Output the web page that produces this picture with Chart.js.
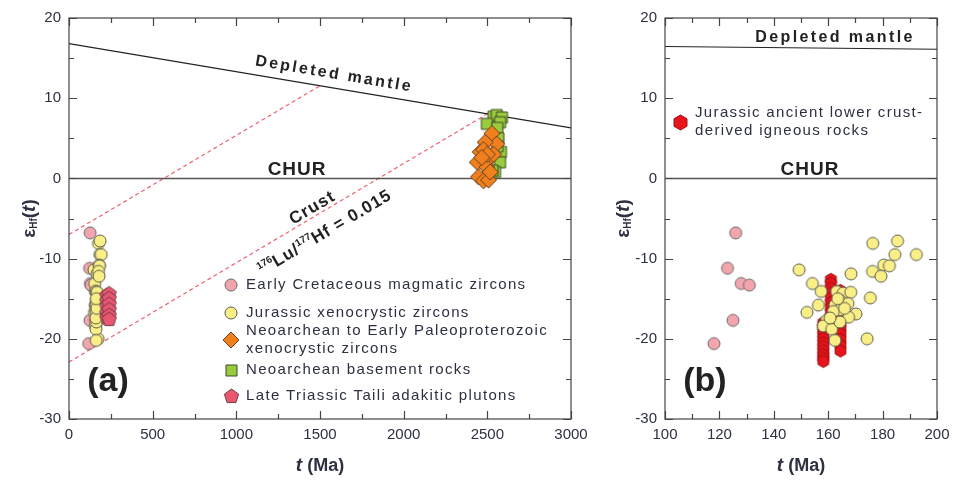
<!DOCTYPE html>
<html><head><meta charset="utf-8">
<script src="https://cdn.jsdelivr.net/npm/chart.js@4.4.1/dist/chart.umd.min.js"></script>
<style>
html,body{margin:0;padding:0;background:#fff;}
#wrap{position:relative;width:958px;height:483px;overflow:hidden;}
#chartA{position:absolute;left:0;top:0;}
#chartB{position:absolute;left:600px;top:0;}
</style></head><body>
<div id="wrap"><canvas id="chartA" width="600" height="483"></canvas><canvas id="chartB" width="358" height="483"></canvas></div>
<script>
/* eHf(t) vs t — two panels */
(function () {
  "use strict";
  const FONT = "'Liberation Sans', Arial, sans-serif";
  const INK = "#2c3040";

  /* data (age Ma, eHf) */
  const cretAge = [118, 123, 125, 126, 128, 131];
  const cretHf  = [-20.6, -11.2, -17.7, -6.8, -13.1, -13.3];

  const jurAge = [149.3, 154.2, 157.4, 152.2, 156.4, 168.4, 176.4, 185.5, 184.5, 192.4, 180.4, 182.5, 176.3, 179.4, 175.5, 174.3,
                  163.1, 165.5, 168.3, 164.3, 167.3, 162.5, 170.2, 167.5, 164.3, 161.9, 159.4, 158.2, 161.3, 162.5, 164.3, 160.7, 166.0, 163.5];
  const jurHf  = [-11.4, -13.1, -14.1, -16.7, -15.8, -11.9, -8.1, -7.8, -9.5, -9.5, -10.8, -10.9, -11.6, -12.2, -14.9, -20.0,
                  -14.1, -14.3, -14.2, -15.2, -15.6, -15.8, -16.9, -17.3, -16.4, -16.6, -17.7, -18.4, -18.8, -20.2, -17.9, -17.4, -16.2, -15.0];

  const lcAge = [158.2, 158.2, 158.2, 158.2, 158.2, 158.2, 158.2, 158.2, 158.2, 158.2, 158.2,
                 161.0, 161.0, 161.0, 161.0, 161.0, 161.0, 161.0, 161.0, 161.0, 161.0, 161.0,
                 164.5, 164.5, 164.5, 164.5, 164.5, 164.5, 164.5, 164.5, 164.5, 164.5, 164.5];
  const lcHf  = [-18.0, -18.5, -19.0, -19.5, -20.0, -20.5, -21.0, -21.5, -22.0, -22.4, -22.8,
                 -12.6, -13.1, -13.7, -14.3, -14.9, -15.5, -16.1, -16.7, -17.3, -17.9, -18.5,
                 -14.0, -14.8, -15.6, -16.4, -17.2, -18.0, -18.7, -19.4, -20.1, -20.8, -21.5];

  const tailiAge = [226, 226, 226, 226, 226, 240, 240, 240, 240, 240, 240];
  const tailiHf  = [-14.6, -15.3, -16.0, -16.8, -17.4, -14.4, -15.0, -15.7, -16.4, -17.1, -17.6];

  const xenoAge = [2527, 2556, 2487, 2457, 2477, 2517, 2440, 2497, 2447, 2477, 2507, 2517, 2537, 2500, 2466];
  const xenoHf  = [5.6, 4.3, 4.5, 3.3, 3.6, 2.6, 2.0, 1.4, 0.2, -0.3, -0.2, 0.8, 3.0, 3.0, 2.6];

  const baseAge = [2537, 2556, 2587, 2576, 2497, 2560, 2581, 2576, 2546, 2497, 2566, 2530, 2560];
  const baseHf  = [7.7, 7.9, 7.6, 7.0, 6.8, 6.3, 3.3, 2.0, 0.8, 2.2, 5.0, 1.0, 4.0];

  /* reference lines: [t, eHf] end points */
  const dmLine = [[0, 16.8], [3000, 6.3]];
  const crustUpper = [[0, -7.0], [1500, 11.55]];
  const crustLower = [[0, -22.9], [2500, 8.05]];

  const yTicks = [-30, 20, 10];      // min, max, step
  const xTicksA = [0, 3000, 500];
  const xTicksB = [100, 200, 20];

  const pts = (xs, ys) => xs.map((x, i) => ({ x: x, y: ys[i] }));
  const seg = (l) => l.map((p) => ({ x: p[0], y: p[1] }));

  /* marker images */
  function marker(shape, r, fill, stroke) {
    const s = Math.ceil(r * 2 + 4);
    const c = document.createElement("canvas"); c.width = c.height = s;
    const g = c.getContext("2d"), m = s / 2;
    g.beginPath();
    if (shape === "circle") g.arc(m, m, r, 0, Math.PI * 2);
    else if (shape === "square") g.rect(m - r, m - r, r * 2, r * 2);
    else {
      const n = { diamond: 4, pentagon: 5, hexagon: 6 }[shape];
      for (let i = 0; i < n; i++) {
        const a = -Math.PI / 2 + i * 2 * Math.PI / n;
        const px = m + r * Math.cos(a), py = m + r * Math.sin(a);
        i ? g.lineTo(px, py) : g.moveTo(px, py);
      }
      g.closePath();
    }
    g.fillStyle = fill; g.fill();
    g.lineWidth = 1; g.strokeStyle = stroke; g.stroke();
    return c;
  }
  const mPink = marker("circle", 6, "#f2a5ad", "#6a6a6a");
  const mYel = marker("circle", 6, "#f9ef86", "#5c5c50");
  const mDia = marker("diamond", 8, "#f0801e", "#6a4020");
  const mSq = marker("square", 5.5, "#9acb3c", "#3c4a28");
  const mPent = marker("pentagon", 7.5, "#ea5570", "#6a4048");
  const mHex = marker("hexagon", 6.2, "#e8141c", "#9a1010");
  const mHexKey = marker("hexagon", 7.5, "#e8141c", "#9a1010");

  /* rich text helper */
  function rich(ctx, parts, x, y, ang, color) {
    ctx.save(); ctx.translate(x, y); ctx.rotate(ang || 0);
    ctx.fillStyle = color || INK; ctx.textBaseline = "middle"; ctx.textAlign = "left";
    let w = 0;
    parts.forEach((p) => { ctx.font = p.f; ctx.letterSpacing = p.ls || "0px"; p.w = ctx.measureText(p.t).width; w += p.w; });
    let cx = -w / 2;
    parts.forEach((p) => { ctx.font = p.f; ctx.letterSpacing = p.ls || "0px"; ctx.fillText(p.t, cx, p.dy || 0); cx += p.w; });
    ctx.restore();
  }
  const B = (sz) => "bold " + sz + "px " + FONT;
  const angOf = (chart, l) => {
    const xs = chart.scales.x, ys = chart.scales.y;
    return Math.atan2(ys.getPixelForValue(l[1][1]) - ys.getPixelForValue(l[0][1]),
                      xs.getPixelForValue(l[1][0]) - xs.getPixelForValue(l[0][0]));
  };

  /* frame, inward ticks, labels, legend */
  const deco = {
    id: "deco",
    afterDraw(chart, args, o) {
      const ctx = chart.ctx, a = chart.chartArea, xs = chart.scales.x, ys = chart.scales.y;
      ctx.save();
      ctx.strokeStyle = "#444"; ctx.lineWidth = 1.2;
      ctx.strokeRect(a.left, a.top, a.right - a.left, a.bottom - a.top);
      ctx.beginPath();
      for (let v = xs.min; v <= xs.max + 1e-9; v += o.xMinor) {
        const px = Math.round(xs.getPixelForValue(v)) + 0.5;
        const len = Math.abs((v - xs.min) / (o.xMinor * 2) % 1) < 1e-6 ? 8 : 5;
        ctx.moveTo(px, a.bottom); ctx.lineTo(px, a.bottom - len);
        ctx.moveTo(px, a.top); ctx.lineTo(px, a.top + len);
      }
      for (let v = ys.min; v <= ys.max + 1e-9; v += 5) {
        const py = Math.round(ys.getPixelForValue(v)) + 0.5;
        const len = Math.abs(v % 10) < 1e-6 ? 8 : 5;
        ctx.moveTo(a.left, py); ctx.lineTo(a.left + len, py);
        ctx.moveTo(a.right, py); ctx.lineTo(a.right - len, py);
      }
      ctx.stroke();
      ctx.restore();

      // axis titles
      const yc = (a.top + a.bottom) / 2;
      rich(ctx, [{ t: "ε", f: B(19) }, { t: "Hf", f: B(10), dy: 4 }, { t: "(", f: B(19) }, { t: "t", f: "italic " + B(19) }, { t: ")", f: B(19) }],
        o.yTitleX, yc, -Math.PI / 2);
      rich(ctx, [{ t: "t", f: "italic " + B(19) }, { t: " (Ma)", f: B(18) }], (a.left + a.right) / 2, 466, 0);

      // annotations placed in data space
      o.texts.forEach((t) => {
        const ang = t.along ? angOf(chart, t.along) : 0;
        rich(ctx, t.parts, xs.getPixelForValue(t.x), ys.getPixelForValue(t.y), ang, t.color);
      });

      // legend
      o.legend.forEach((it) => {
        ctx.drawImage(it.m, Math.round(it.mx - it.m.width / 2), Math.round(it.y - it.m.height / 2));
        it.lines.forEach((ln, k) => {
          ctx.save();
          ctx.font = "15px " + FONT; ctx.letterSpacing = "1.35px";
          ctx.fillStyle = INK; ctx.textBaseline = "middle";
          ctx.fillText(ln, it.tx, it.y + (k - (it.lines.length - 1) / 2) * 18);
          ctx.restore();
        });
      });
    },
  };

  function lineDs(l, color, dash, w) {
    return { type: "scatter", data: seg(l), showLine: true, borderColor: color, borderWidth: w || 1,
             borderDash: dash || [], pointRadius: 0, order: 20 };
  }
  function ptDs(xs, ys, img, order) {
    return { data: pts(xs, ys), pointStyle: img, pointRadius: 6, order: order };
  }

  function axes(xr, padL) {
    const font = { family: FONT, size: 15 };
    return {
      x: { type: "linear", min: xr[0], max: xr[1],
           ticks: { stepSize: xr[2], padding: 7, color: INK, font: font, callback: (v) => String(v) },
           grid: { display: false, drawTicks: false }, border: { display: false },
           afterFit: (s) => { s.height = 64; } },
      y: { type: "linear", min: yTicks[0], max: yTicks[1],
           ticks: { stepSize: yTicks[2], padding: 8, color: INK, font: font, callback: (v) => String(v) },
           grid: { display: false, drawTicks: false }, border: { display: false },
           afterFit: (s) => { s.width = padL; } },
    };
  }

  const base = (padR) => ({
    responsive: false, animation: false,
    layout: { padding: { top: 18, right: padR, left: 0, bottom: 0 } },
  });

  /* panel (a) */
  const crustParts = [{ t: "Crust", f: B(17), ls: "1.2px" }];
  const ratioParts = [{ t: "176", f: B(10), dy: -5 }, { t: "Lu/", f: B(17), ls: "1px" }, { t: "177", f: B(10), dy: -5 },
                      { t: "Hf = 0.015", f: B(17), ls: "1px" }];
  new Chart(document.getElementById("chartA"), {
    type: "scatter",
    data: { datasets: [
      lineDs([[0, 0], [3000, 0]], "#555", null, 1.5),
      lineDs(dmLine, "#222", null, 1.1),
      lineDs(crustUpper, "#f0606e", [4, 3], 1.2),
      lineDs(crustLower, "#f0606e", [4, 3], 1.2),
      ptDs(baseAge, baseHf, mSq, 6),
      ptDs(xenoAge, xenoHf, mDia, 5),
      ptDs(cretAge, cretHf, mPink, 4),
      ptDs(jurAge, jurHf, mYel, 3),
      ptDs(tailiAge, tailiHf, mPent, 2),
    ] },
    options: Object.assign(base(29), {
      scales: axes(xTicksA, 69),
      plugins: {
        legend: { display: false }, tooltip: { enabled: false },
        deco: {
          xMinor: 250, yTitleX: 30,
          texts: [
            { parts: [{ t: "Depleted mantle", f: B(16), ls: "2.4px" }], x: 1584, y: 13.0, along: dmLine, color: "#222" },
            { parts: [{ t: "CHUR", f: B(19), ls: "1px" }], x: 1363, y: 1.05, color: "#222" },
            { parts: crustParts, x: 1455, y: -3.7, along: crustLower, color: "#222" },
            { parts: ratioParts, x: 1530, y: -6.8, along: crustLower, color: "#222" },
            { parts: [{ t: "(a)", f: B(34) }], x: 233, y: -25.3, color: "#222" },
          ],
          legend: [
            { m: mPink, mx: 231, tx: 246, y: 285, lines: ["Early Cretaceous magmatic zircons"] },
            { m: mYel, mx: 231, tx: 246, y: 313, lines: ["Jurassic xenocrystic zircons"] },
            { m: mDia, mx: 231, tx: 246, y: 340, lines: ["Neoarchean to Early Paleoproterozoic", "xenocrystic zircons"] },
            { m: mSq, mx: 231, tx: 246, y: 370, lines: ["Neoarchean basement rocks"] },
            { m: mPent, mx: 231, tx: 246, y: 396, lines: ["Late Triassic Taili adakitic plutons"] },
          ],
        },
      },
    }),
    plugins: [deco],
  });

  /* panel (b) */
  new Chart(document.getElementById("chartB"), {
    type: "scatter",
    data: { datasets: [
      lineDs([[100, 0], [200, 0]], "#555", null, 1.5),
      lineDs(dmLine, "#222", null, 1.1),
      ptDs(lcAge, lcHf, mHex, 4),
      ptDs(jurAge, jurHf, mYel, 3),
      ptDs(cretAge, cretHf, mPink, 2),
    ] },
    options: Object.assign(base(21), {
      scales: axes(xTicksB, 65),
      plugins: {
        legend: { display: false }, tooltip: { enabled: false },
        deco: {
          xMinor: 10, yTitleX: 24,
          texts: [
            { parts: [{ t: "Depleted mantle", f: B(16), ls: "2.4px" }], x: 162.5, y: 17.5, color: "#222" },
            { parts: [{ t: "CHUR", f: B(19), ls: "1px" }], x: 153.3, y: 1.05, color: "#222" },
            { parts: [{ t: "(b)", f: B(34) }], x: 114.7, y: -25.3, color: "#222" },
          ],
          legend: [
            { m: mHexKey, mx: 80, tx: 95, y: 122, lines: ["Jurassic ancient lower crust-", "derived igneous rocks"] },
          ],
        },
      },
    }),
    plugins: [deco],
  });
})();
</script>
</body></html>
